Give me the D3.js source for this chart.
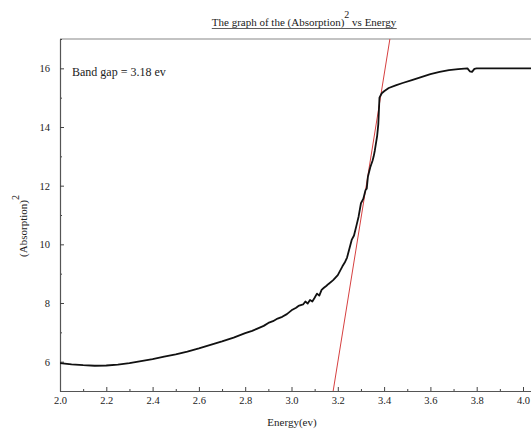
<!DOCTYPE html>
<html>
<head>
<meta charset="utf-8">
<script src="https://cdn.jsdelivr.net/npm/d3@7"></script>
<style>
    body { margin: 0; background: #fff; }
    svg text { font-family: "Liberation Serif", "DejaVu Serif", serif; fill: #222; }
</style>
</head>
<body>
<div id="chart"></div>
<script>
// absorption^2 curve
var energy = [2.00, 2.05, 2.10, 2.15, 2.20, 2.25, 2.30, 2.35, 2.40, 2.45,
    2.50, 2.55, 2.60, 2.65, 2.70, 2.75, 2.80, 2.83, 2.85, 2.88, 2.90, 2.92, 2.94, 2.96, 2.98,
    3.00, 3.02, 3.03, 3.05, 3.06, 3.07, 3.08, 3.09, 3.10, 3.11, 3.12, 3.13, 3.14, 3.15,
    3.16, 3.18, 3.20, 3.22, 3.23, 3.24, 3.25, 3.26, 3.27, 3.28, 3.29, 3.30, 3.31, 3.32,
    3.325, 3.33, 3.34, 3.35, 3.355, 3.36, 3.37, 3.375, 3.38, 3.39, 3.40, 3.42, 3.45,
    3.48, 3.52, 3.56, 3.60, 3.64, 3.68, 3.72, 3.76, 3.77, 3.78, 3.79, 3.80, 3.90, 4.00, 4.05]
var absorption2 = [5.95, 5.91, 5.88, 5.86, 5.87, 5.90, 5.95, 6.02, 6.09, 6.17,
    6.25, 6.34, 6.45, 6.57, 6.69, 6.82, 6.97, 7.05, 7.12, 7.22, 7.32, 7.38, 7.47, 7.53, 7.62,
    7.75, 7.84, 7.90, 7.95, 8.05, 7.98, 8.10, 8.05, 8.18, 8.32, 8.25, 8.45, 8.52, 8.58,
    8.65, 8.78, 8.95, 9.25, 9.38, 9.55, 9.85, 10.15, 10.30, 10.62, 10.95, 11.40, 11.55, 11.85,
    11.90, 12.30, 12.62, 12.85, 13.00, 13.20, 13.70, 14.10, 15.00, 15.15, 15.22, 15.33, 15.42,
    15.50, 15.60, 15.70, 15.80, 15.88, 15.94, 15.97, 16.00, 15.90, 15.88, 15.98, 16.00, 16.00, 16.00, 16.00]

// linear fit of the edge, crosses the energy axis at the band gap
var fitEnergy = [3.18, 3.425]
var fitValue = [5, 17]

var xTicks = [2.0, 2.2, 2.4, 2.6, 2.8, 3.0, 3.2, 3.4, 3.6, 3.8, 4.0]
var yTicks = [6, 8, 10, 12, 14, 16]

var width = 531
var height = 429
var margin = {top: 39, left: 60, bottom: 38}

var svg = d3.select('#chart')
    .append('svg')
    .attr('width', width)
    .attr('height', height)

var x = d3.scaleLinear()
    .domain([2.0, 4.05])
    .range([margin.left, margin.left + 2.05 * 231.5])

var y = d3.scaleLinear()
    .domain([5, 17])
    .range([height - margin.bottom, margin.top])

svg.append('clipPath')
    .attr('id', 'plot-clip')
    .append('rect')
    .attr('x', x(2.0))
    .attr('y', y(17))
    .attr('width', width)
    .attr('height', y(5) - y(17))

// top frame
svg.append('line')
    .attr('x1', x(2.0))
    .attr('x2', width)
    .attr('y1', y(17))
    .attr('y2', y(17))
    .attr('stroke', '#888')
    .attr('stroke-width', 1.2)

// minor ticks first, majors with labels on top
svg.append('g')
    .attr('transform', `translate(0,${y(5)})`)
    .call(d3.axisBottom(x).tickValues(d3.range(2.1, 4.05, 0.2)).tickSize(-2).tickFormat(''))
    .call(g => g.select('.domain').remove())

svg.append('g')
    .attr('transform', `translate(${x(2.0)},0)`)
    .call(d3.axisLeft(y).tickValues([5, 7, 9, 11, 13, 15, 17]).tickSize(-2).tickFormat(''))
    .call(g => g.select('.domain').remove())

var xAxis = svg.append('g')
    .attr('transform', `translate(0,${y(5)})`)
    .call(d3.axisBottom(x).tickValues(xTicks).tickSizeInner(-4).tickSizeOuter(0)
        .tickPadding(6).tickFormat(d3.format('.1f')))

var yAxis = svg.append('g')
    .attr('transform', `translate(${x(2.0)},0)`)
    .call(d3.axisLeft(y).tickValues(yTicks).tickSizeInner(-4).tickSizeOuter(0)
        .tickPadding(10).tickFormat(d3.format('d')))

svg.selectAll('g').attr('font-family', null)
svg.selectAll('.tick line').attr('stroke', '#444')
svg.selectAll('.domain').attr('stroke', '#555').attr('stroke-width', 1.2)
svg.selectAll('.tick text').attr('font-size', 10.5).attr('fill', '#333')

// red fit line
svg.append('path')
    .datum(d3.zip(fitEnergy, fitValue))
    .attr('clip-path', 'url(#plot-clip)')
    .attr('d', d3.line().x(d => x(d[0])).y(d => y(d[1])))
    .attr('fill', 'none')
    .attr('stroke', '#d64040')
    .attr('stroke-width', 1)

// measured curve
svg.append('path')
    .datum(d3.zip(energy, absorption2))
    .attr('clip-path', 'url(#plot-clip)')
    .attr('d', d3.line().x(d => x(d[0])).y(d => y(d[1])))
    .attr('fill', 'none')
    .attr('stroke', '#111')
    .attr('stroke-width', 1.8)
    .attr('stroke-linejoin', 'round')

// title, underlined by hand so the superscript sits above the rule
var title = svg.append('text')
    .attr('x', 304)
    .attr('y', 26)
    .attr('text-anchor', 'middle')
    .attr('font-size', 11)
title.append('tspan').text('The graph of the (Absorption)')
title.append('tspan').attr('dy', -8).attr('font-size', 10).text('2')
title.append('tspan').attr('dy', 8).text(' vs Energy')

var tb = title.node().getBBox()
svg.append('line')
    .attr('x1', tb.x)
    .attr('x2', tb.x + tb.width)
    .attr('y1', 28.5)
    .attr('y2', 28.5)
    .attr('stroke', '#333')
    .attr('stroke-width', 0.8)

svg.append('text')
    .attr('x', 72)
    .attr('y', 76)
    .attr('font-size', 12)
    .text('Band gap = 3.18 ev')

svg.append('text')
    .attr('x', 292)
    .attr('y', 426)
    .attr('text-anchor', 'middle')
    .attr('font-size', 11)
    .text('Energy(ev)')

var yLabel = svg.append('text')
    .attr('transform', 'translate(27,226) rotate(-90)')
    .attr('text-anchor', 'middle')
    .attr('font-size', 11)
yLabel.append('tspan').text('(Absorption)')
yLabel.append('tspan').attr('dy', -8).attr('font-size', 10).text('2')
</script>
</body>
</html>
